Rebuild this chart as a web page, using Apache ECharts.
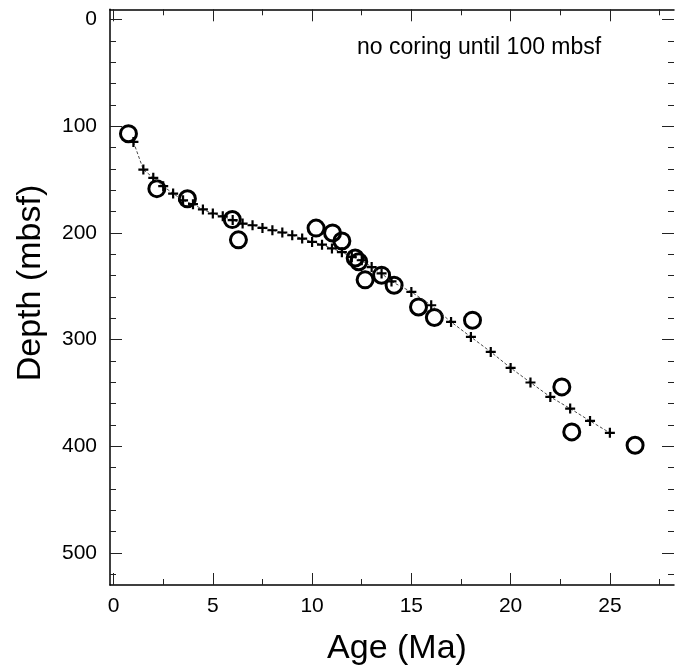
<!DOCTYPE html>
<html>
<head>
    <meta charset="utf-8">
    <script src="https://cdn.jsdelivr.net/npm/echarts@6/dist/echarts.min.js"></script>
    <style>
        html, body { margin: 0; padding: 0; background: #fff; }
    </style>
</head>
<body>
    <div id="main" style="width: 675px;height:667px;"></div>
    <script type="text/javascript">
        // 年龄-深度模型 (加号, 虚线相连)
        var model_age = [1.0, 1.5, 2.0, 2.5, 3.0, 3.5, 4.0, 4.5, 5.0, 5.5, 6.0, 6.5, 7.0, 7.5, 8.0, 8.5,
                         9.0, 9.5, 10.0, 10.5, 11.0, 11.5, 12.0, 12.5, 13.0, 13.5, 14.0,
                         15, 16, 17, 18, 19, 20, 21, 22, 23, 24, 25];
        var model_depth = [114.7, 140.6, 148.4, 156.2, 163.1, 169.4, 173.1, 178.0, 181.8, 184.4, 188.0, 191.2, 192.8, 195.3, 197.5, 199.6,
                           202.2, 205.3, 208.4, 211.0, 214.5, 218.0, 222.5, 225.6, 232.0, 238.0, 245.5,
                           255.3, 267.8, 283.4, 297.5, 311.5, 326.5, 340.2, 353.7, 364.6, 376.2, 387.4];

        // 生物地层数据点 (圆圈)
        var datum_age = [0.75, 2.18, 3.72, 5.98, 6.29, 10.2, 11.03, 11.5, 12.17, 12.35, 12.67, 13.5, 14.13,
                         15.36, 16.16, 18.08, 22.58, 23.08, 26.27];
        var datum_depth = [107, 158.5, 168, 187.5, 206.5, 195.5, 200, 207.5, 223.5, 227, 244, 239.6, 249,
                           269.4, 279.3, 281.8, 344.3, 386.5, 399];

        var x_major = [0, 5, 10, 15, 20, 25];
        var x_minor = [2.5, 7.5, 12.5, 17.5, 22.5, 27.5];
        var y_major = [0, 100, 200, 300, 400, 500];
        var y_minor = [20, 40, 60, 80, 120, 140, 160, 180, 220, 240, 260, 280,
                       320, 340, 360, 380, 420, 440, 460, 480, 520];

        var x_min = -0.18, x_max = 28.23;
        var y_min = -9.6, y_max = 530;

        function zip(a, b) {
            return a.map(function (v, i) { return [v, b[i]]; });
        }

        var font = 'Liberation Sans, Arial, Helvetica, sans-serif';

        function xAxisDef(pos, ticks, len, isMain) {
            return {
                type: 'value', position: pos, min: x_min, max: x_max,
                axisLine: {show: isMain, onZero: false, lineStyle: {color: '#000', width: 1.5}},
                axisTick: {show: true, inside: true, length: len, customValues: ticks,
                           lineStyle: {color: '#222', width: 1}},
                axisLabel: {show: isMain && pos === 'bottom', customValues: x_major, margin: 11,
                            color: '#000', fontSize: 21, fontFamily: font},
                splitLine: {show: false}
            };
        }

        function yAxisDef(pos, ticks, len, isMain) {
            return {
                type: 'value', position: pos, min: y_min, max: y_max, inverse: true,
                // 右侧边框在画面之外, 只留刻度
                axisLine: {show: isMain && pos === 'left', onZero: false, lineStyle: {color: '#000', width: 1.5}},
                axisTick: {show: true, inside: true, length: len, customValues: ticks,
                           lineStyle: {color: '#222', width: 1}},
                axisLabel: {show: isMain && pos === 'left', customValues: y_major, margin: 13,
                            color: '#000', fontSize: 21, fontFamily: font},
                splitLine: {show: false}
            };
        }

        var option = {
            backgroundColor: '#fff',
            animation: false,
            grid: {left: 110, right: 1, top: 9.3, bottom: 82, outerBoundsMode: 'none'},
            xAxis: [
                xAxisDef('bottom', x_major, 12, true),
                xAxisDef('bottom', x_minor, 6, false),
                xAxisDef('top', x_major, 12, true),
                xAxisDef('top', x_minor, 6, false)
            ],
            yAxis: [
                yAxisDef('left', y_major, 12, true),
                yAxisDef('left', y_minor, 6, false),
                yAxisDef('right', y_major, 12, true),
                yAxisDef('right', y_minor, 6, false)
            ],
            graphic: [
                {
                    type: 'text', x: 397, y: 649,
                    style: {text: 'Age (Ma)', fill: '#000', font: '34px ' + font,
                            textAlign: 'center', textVerticalAlign: 'middle'}
                },
                {
                    type: 'text', x: 31, y: 283, rotation: Math.PI / 2,
                    style: {text: 'Depth (mbsf)', fill: '#000', font: '34px ' + font,
                            textAlign: 'center', textVerticalAlign: 'middle'}
                },
                {
                    type: 'text', x: 357, y: 48,
                    style: {text: 'no coring until 100 mbsf', fill: '#000', font: '23px ' + font,
                            textAlign: 'left', textVerticalAlign: 'middle'}
                }
            ],
            series: [
                {
                    name: 'model',
                    type: 'line',
                    xAxisIndex: 0, yAxisIndex: 0,
                    symbol: 'path://M3.9,0H6.1V3.9H10V6.1H6.1V10H3.9V6.1H0V3.9H3.9Z',
                    symbolSize: 10,
                    itemStyle: {color: '#000'},
                    lineStyle: {color: '#333', width: 0.9, type: [3, 2]},
                    data: zip(model_age, model_depth)
                },
                {
                    name: 'datums',
                    type: 'scatter',
                    xAxisIndex: 0, yAxisIndex: 0,
                    symbol: 'circle',
                    symbolSize: 16,
                    itemStyle: {color: 'rgba(0,0,0,0)', borderColor: '#000', borderWidth: 3, opacity: 1},
                    data: zip(datum_age, datum_depth)
                }
            ]
        };

        var myChart = echarts.init(document.getElementById('main'));
        myChart.setOption(option);
    </script>
</body>
</html>
